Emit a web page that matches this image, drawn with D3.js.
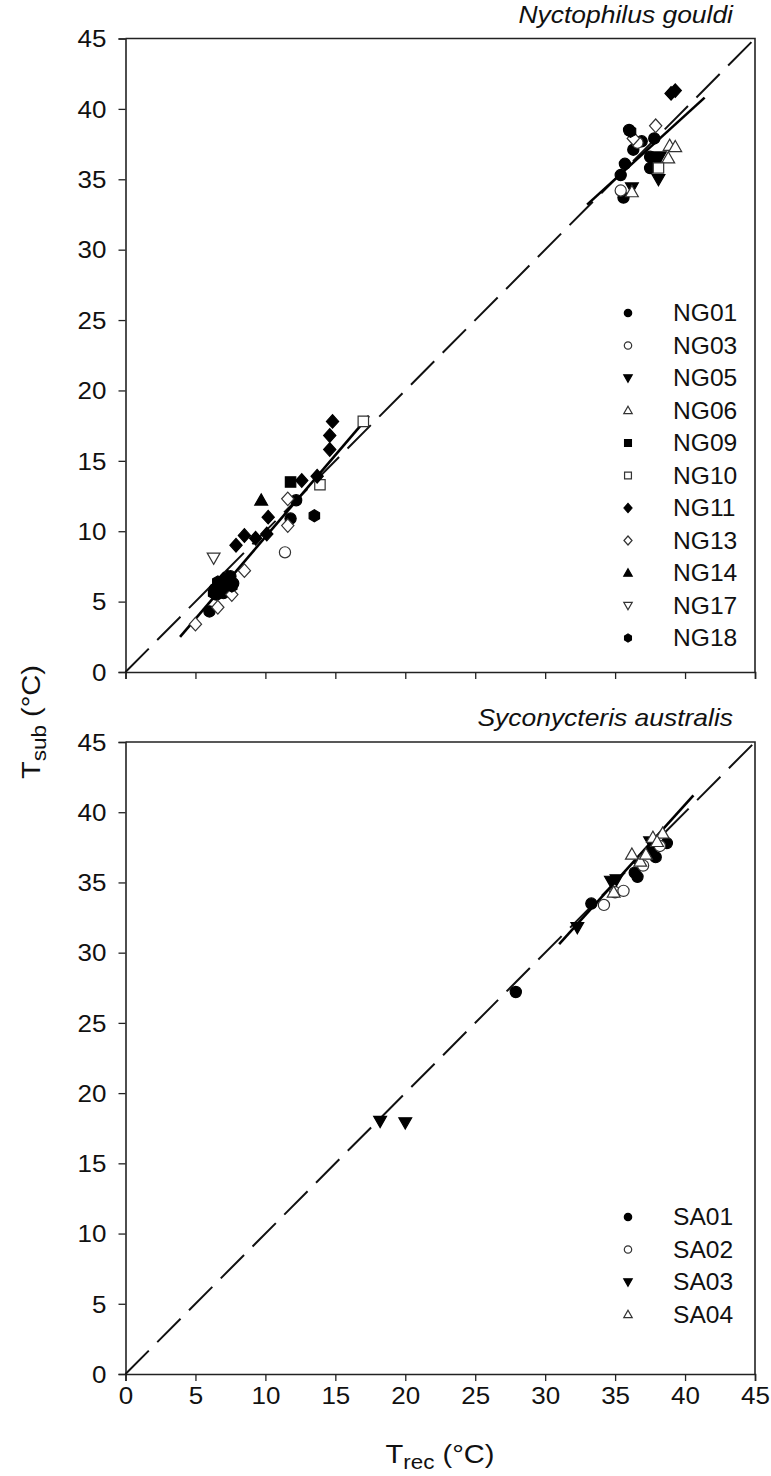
<!DOCTYPE html>
<html><head><meta charset="utf-8">
<script src="https://cdn.jsdelivr.net/npm/d3@7/dist/d3.min.js"></script>
<style>body{margin:0;background:#fff}svg{display:block}</style>
</head><body>
<svg id="c" width="771" height="1476"></svg>
<script>
// ---------- DATA ----------
const axisTicks = [0,5,10,15,20,25,30,35,40,45];
const topTitle = "Nyctophilus gouldi";
const botTitle = "Syconycteris australis";

// Nyctophilus gouldi  [Trec, Tsub]
const NG01 = [[36.0,38.5],[36.9,37.7],[36.3,37.1],[37.5,36.6],[35.7,36.1],[37.5,35.8],[35.4,35.3],[35.6,33.7],[37.8,37.9],
              [6.0,4.3],[6.5,5.5],[6.8,6.0],[7.2,6.5],[7.5,6.8],[11.8,10.9],[12.2,12.2],[6.4,5.9],[7.7,6.3],[7.0,5.6]];
const NG03 = [[35.4,34.2],[11.4,8.5],[36.6,37.6]];
const NG05 = [[38.2,36.6],[38.1,35.0],[36.2,34.4]];
const NG06 = [[38.9,37.4],[39.3,37.3],[38.8,36.5],[36.2,34.1]];
const NG09 = [[11.8,13.5],[37.9,36.3]];
const NG10 = [[17.0,17.8],[13.9,13.3],[38.1,35.8]];
const NG11 = [[14.8,17.8],[14.6,16.8],[14.6,15.8],[12.6,13.6],[10.2,11.0],[10.1,9.8],[8.5,9.7],[9.3,9.5],
              [39.0,41.1],[39.3,41.3],[7.9,9.0],[13.7,13.9],[7.0,6.6]];
const NG13 = [[11.6,12.3],[11.6,10.4],[8.5,7.2],[7.6,5.5],[6.6,4.6],[5.0,3.4],[37.9,38.8],[36.3,37.9]];
const NG14 = [[9.7,12.2],[7.3,6.8]];
const NG17 = [[6.3,8.1]];
const NG18 = [[13.5,11.1],[36.1,38.4],[6.3,5.6],[7.6,6.1],[6.6,6.4]];

// Syconycteris australis
const SA01 = [[27.9,27.2],[33.3,33.5],[36.4,35.7],[36.6,35.4],[37.9,36.8],[38.7,37.8],[37.6,37.3]];
const SA02 = [[34.2,33.4],[35.0,34.3],[35.6,34.4],[37.0,36.2],[38.2,37.6]];
const SA03 = [[18.2,18.0],[20.0,17.9],[32.3,31.8],[34.7,35.1],[35.1,35.2],[37.5,37.9]];
const SA04 = [[34.9,34.3],[36.2,37.0],[36.8,36.5],[37.2,37.0],[37.7,38.2],[38.4,38.5],[38.0,37.9]];

// regression line end points [[x1,y1],[x2,y2]]
const ngLowFit  = [[3.9,2.5],[17.4,18.2]];
const ngHighFit = [[33.0,33.2],[41.4,40.8]];
const saFit     = [[31.0,30.6],[40.6,41.2]];
const identity  = [[0,0],[45,45]];

const ngSeries = [
  {name:"NG01", data:NG01, shape:"circle", fill:true},
  {name:"NG03", data:NG03, shape:"circle", fill:false},
  {name:"NG05", data:NG05, shape:"tdown", fill:true},
  {name:"NG06", data:NG06, shape:"tup", fill:false},
  {name:"NG09", data:NG09, shape:"square", fill:true},
  {name:"NG10", data:NG10, shape:"square", fill:false},
  {name:"NG11", data:NG11, shape:"diamond", fill:true},
  {name:"NG13", data:NG13, shape:"diamond", fill:false},
  {name:"NG14", data:NG14, shape:"tup", fill:true},
  {name:"NG17", data:NG17, shape:"tdown", fill:false},
  {name:"NG18", data:NG18, shape:"hex", fill:true}
];
const saSeries = [
  {name:"SA01", data:SA01, shape:"circle", fill:true},
  {name:"SA02", data:SA02, shape:"circle", fill:false},
  {name:"SA03", data:SA03, shape:"tdown", fill:true},
  {name:"SA04", data:SA04, shape:"tup", fill:false}
];

// ---------- DRAW ----------
const svg = d3.select("#c");
const FONT = "'Liberation Sans', Arial, sans-serif";
const INK = "#111";
const left = 125.5, right = 755;
const x = d3.scaleLinear().domain([0,45]).range([left,right]);

function shapePath(shape, s){
  const r = 5.6*s;
  switch(shape){
    case "circle": return d3.symbol(d3.symbolCircle, Math.PI*r*r)();
    case "square": { const h=5.2*s; return `M${-h},${-h}H${h}V${h}H${-h}Z`; }
    case "diamond": { const h=6.8*s; return `M0,${-h}L${h*0.9},0L0,${h}L${-h*0.9},0Z`; }
    case "tup": { const h=6.4*s; return `M0,${-h}L${h*1.0},${h*0.75}L${-h*1.0},${h*0.75}Z`; }
    case "tdown": { const h=6.4*s; return `M0,${h}L${h*1.0},${-h*0.75}L${-h*1.0},${-h*0.75}Z`; }
    case "hex": { const h=6.0*s; let p=[]; for(let i=0;i<6;i++){const a=Math.PI/6+i*Math.PI/3; p.push([h*Math.cos(a),h*Math.sin(a)]);} return "M"+p.map(q=>q.join(",")).join("L")+"Z"; }
  }
}

function panel(top, bottom, series, fits, title, legendTop, showXLabels){
  const y = d3.scaleLinear().domain([0,45]).range([bottom, top]);
  const g = svg.append("g");
  g.append("path").attr("d",`M${left},${top}H${right}V${bottom}`)
    .attr("fill","none").attr("stroke","#222").attr("stroke-width",1.6);
  const ya = g.append("g").attr("transform",`translate(${left},0)`)
    .call(d3.axisLeft(y).tickValues(axisTicks).tickSize(7).tickPadding(0).tickFormat(d3.format("d")));
  const xa = g.append("g").attr("transform",`translate(0,${bottom})`)
    .call(d3.axisBottom(x).tickValues(axisTicks).tickSize(7).tickPadding(0)
      .tickFormat(showXLabels? d3.format("d") : ()=>""));
  [ya,xa].forEach(a=>{
    a.select(".domain").attr("stroke","#222").attr("stroke-width",1.6);
    a.selectAll(".tick line").attr("stroke","#222").attr("stroke-width",1.3);
    a.selectAll("text").attr("font-family",FONT).attr("font-size",23).attr("fill",INK);
  });
  // stretch tick labels horizontally like the reference
  ya.selectAll(".tick text").attr("x",0).attr("dy","0.36em").attr("transform","translate(-19,0) scale(1.13,1)");
  xa.selectAll(".tick text").attr("y",0).attr("dy","0.71em").attr("transform","translate(0,14) scale(1.13,1)");

  const line = d3.line().x(d=>x(d[0])).y(d=>y(d[1]));
  g.append("path").attr("d",line(identity)).attr("fill","none").attr("stroke",INK)
    .attr("stroke-width",2).attr("stroke-dasharray","33,12");
  fits.forEach(f=>{
    g.append("path").attr("d",line(f)).attr("fill","none").attr("stroke","#000").attr("stroke-width",2.6);
  });
  series.forEach(s=>{
    g.append("g").selectAll("path").data(s.data).join("path")
      .attr("d",shapePath(s.shape,1))
      .attr("transform",d=>`translate(${x(d[0])},${y(d[1])})`)
      .attr("fill",s.fill?"#000":"#fff").attr("stroke",s.fill?"#000":"#333").attr("stroke-width",1.2);
  });
  // title (italic, right aligned)
  g.append("text").attr("transform",`translate(${right-22},${top-16}) scale(1.15,1)`).attr("text-anchor","end")
    .attr("font-family",FONT).attr("font-style","italic").attr("font-size",23).attr("fill",INK)
    .text(title);
  // legend
  const lg = g.append("g");
  series.forEach((s,i)=>{
    const ly = legendTop + i*32.5;
    lg.append("path").attr("d",shapePath(s.shape,0.66))
      .attr("transform",`translate(628,${ly})`)
      .attr("fill",s.fill?"#000":"#fff").attr("stroke",s.fill?"#000":"#333").attr("stroke-width",1.2);
    lg.append("text").attr("transform",`translate(673,${ly}) scale(1.07,1)`).attr("dy","0.36em")
      .attr("font-family",FONT).attr("font-size",23).attr("fill",INK).text(s.name);
  });
}

panel(38.5, 672, ngSeries, [ngLowFit, ngHighFit], topTitle, 313, false);
panel(742, 1374, saSeries, [saFit], botTitle, 1217, true);

// axis titles
const yl = svg.append("text").attr("transform","translate(40,722) rotate(-90) scale(1.12,1)")
  .attr("text-anchor","middle").attr("font-family",FONT).attr("font-size",26).attr("fill",INK);
yl.append("tspan").text("T");
yl.append("tspan").attr("font-size",20).attr("dy",6).text("sub");
yl.append("tspan").attr("dy",-6).text(" (°C)");

const xl = svg.append("text").attr("transform","translate(440,1463) scale(1.12,1)")
  .attr("text-anchor","middle").attr("font-family",FONT).attr("font-size",26).attr("fill",INK);
xl.append("tspan").text("T");
xl.append("tspan").attr("font-size",20).attr("dy",6).text("rec");
xl.append("tspan").attr("dy",-6).text(" (°C)");
</script>
</body></html>
